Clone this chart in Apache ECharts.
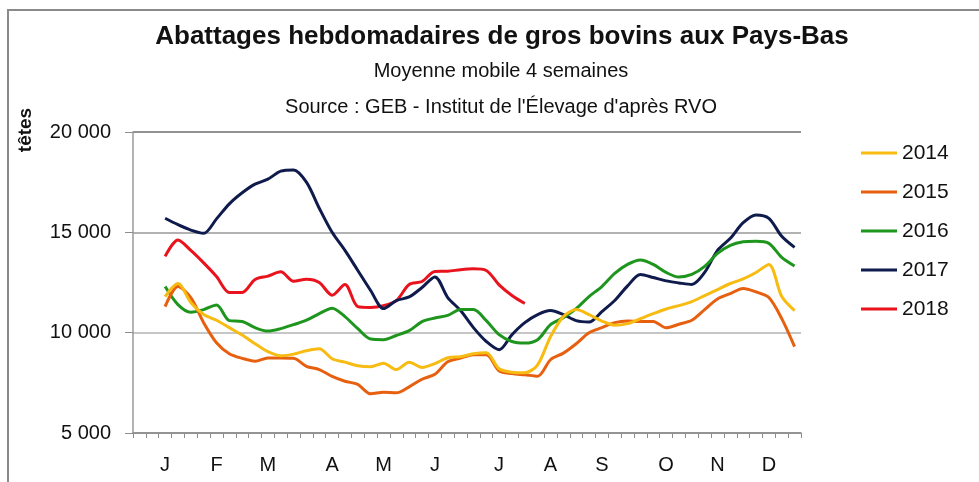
<!DOCTYPE html>
<html>
<head>
<meta charset="utf-8">
<script src="https://cdn.jsdelivr.net/npm/echarts@6/dist/echarts.min.js"></script>
<style>
  html, body { margin: 0; padding: 0; background: #fff; }
  #chart { width: 979px; height: 482px; }
</style>
</head>
<body>
<div id="chart"></div>
<script>
// weekly values, from week 3 to week 52
const y2014 = [11800, 12450, 11500, 10900, 10620, 10250, 9880, 9450, 9050, 8850,
  8930, 9100, 9200, 8700, 8530, 8350, 8300, 8480, 8160, 8530,
  8270, 8460, 8750, 8800, 8950, 9000, 8200, 8030, 8000, 8400,
  9800, 10800, 11150, 10900, 10580, 10370, 10450, 10700, 10950, 11180,
  11350, 11550, 11850, 12150, 12450, 12680, 13000, 13400, 11800, 11100];
const y2015 = [11300, 12300, 11750, 10500, 9500, 8950, 8720, 8580, 8740, 8740,
  8720, 8320, 8160, 7820, 7580, 7420, 6950, 7030, 7000, 7300,
  7680, 7930, 8550, 8730, 8900, 8900, 8100, 7960, 7900, 7830,
  8650, 8980, 9450, 10000, 10250, 10500, 10580, 10560, 10560, 10240,
  10420, 10620, 11150, 11680, 11950, 12200, 12030, 11750, 10700, 9300];
const y2016 = [12300, 11400, 11020, 11150, 11380, 10600, 10560, 10250, 10080, 10200,
  10400, 10620, 10950, 11220, 10800, 10200, 9680, 9650, 9860, 10100,
  10550, 10730, 10860, 11150, 11150, 10600, 9900, 9560, 9480, 9650,
  10400, 10750, 11200, 11800, 12300, 12950, 13400, 13620, 13400, 13000,
  12770, 12900, 13300, 13950, 14350, 14530, 14560, 14450, 13750, 13320];
const y2017 = [15700, 15380, 15110, 14950, 15670, 16420, 16970, 17400, 17650, 18050,
  18110, 17500, 16200, 15000, 14100, 13100, 12100, 11200, 11600, 11780,
  12250, 12780, 11750, 11100, 10250, 9560, 9150, 9900, 10500, 10900,
  11100, 10900, 10600, 10530, 11050, 11600, 12330, 12900, 12750, 12580,
  12480, 12400, 13000, 14100, 14700, 15480, 15870, 15700, 14800, 14250];
const y2018 = [13800, 14620, 14100, 13480, 12800, 12000, 12000, 12650, 12820, 13030,
  12560, 12660, 12500, 11870, 12400, 11300, 11260, 11350, 11600, 12400,
  12550, 13050, 13060, 13140, 13180, 13100, 12380, 11850, 11450];

const years = ['2014', '2015', '2016', '2017', '2018'];
const colors = ['#f7bb12', '#e6600f', '#1e961e', '#0f1b4c', '#e8131d'];
const monthLetters = ['J', 'F', 'M', 'A', 'M', 'J', 'J', 'A', 'S', 'O', 'N', 'D'];
const monthWeeks = [3, 7, 11, 16, 20, 24, 29, 33, 37, 42, 46, 50];
const yTicks = [5000, 10000, 15000, 20000];

const FONT = "'Liberation Sans', Arial, sans-serif";
const firstWeek = 3;
const nbWeeks = 52;

const weeks = [];
for (let w = 1; w <= nbWeeks; w++) weeks.push(w);

function pad(values) {
  const out = [];
  for (let w = 1; w < firstWeek; w++) out.push(null);
  return out.concat(values);
}

function monthLabel(w) {
  const k = monthWeeks.indexOf(Number(w));
  return k >= 0 ? monthLetters[k] : '';
}

const allValues = [y2014, y2015, y2016, y2017, y2018];

const myChart = echarts.init(document.getElementById('chart'));

const option = {
  animation: false,
  backgroundColor: '#fff',
  graphic: [
    {
      type: 'rect',
      shape: { x: 8, y: 10, width: 1000, height: 500 },
      style: { fill: 'none', stroke: '#8a8a8a', lineWidth: 2 },
      silent: true
    },
    {
      type: 'text',
      x: 502, y: 37,
      style: {
        text: 'Abattages hebdomadaires de gros bovins aux Pays-Bas',
        font: 'bold 26px ' + FONT, fill: '#111',
        textAlign: 'center', textVerticalAlign: 'middle'
      }
    },
    {
      type: 'text',
      x: 501, y: 71,
      style: {
        text: 'Moyenne mobile 4 semaines',
        font: '20px ' + FONT, fill: '#111',
        textAlign: 'center', textVerticalAlign: 'middle'
      }
    },
    {
      type: 'text',
      x: 501, y: 107,
      style: {
        text: "Source : GEB - Institut de l'Élevage d'après RVO",
        font: '20px ' + FONT, fill: '#111',
        textAlign: 'center', textVerticalAlign: 'middle'
      }
    },
    {
      type: 'text',
      x: 26, y: 130,
      rotation: Math.PI / 2,
      style: {
        text: 'têtes',
        font: 'bold 19px ' + FONT, fill: '#111',
        textAlign: 'center', textVerticalAlign: 'middle'
      }
    }
  ],
  legend: {
    orient: 'vertical',
    left: 856,
    top: 136,
    itemWidth: 36,
    itemHeight: 3,
    itemGap: 15,
    icon: 'rect',
    textStyle: { fontFamily: FONT, fontSize: 21, color: '#111', lineHeight: 24 },
    data: years
  },
  grid: {
    left: 133,
    right: 178,
    top: 132,
    bottom: 49
  },
  xAxis: {
    type: 'category',
    data: weeks,
    boundaryGap: true,
    axisLine: { show: true, lineStyle: { color: '#8c8c8c', width: 1.5 } },
    axisTick: { show: true, interval: 0, length: 5, lineStyle: { color: '#8c8c8c' } },
    axisLabel: {
      interval: 0,
      margin: 22,
      fontFamily: FONT,
      fontSize: 20,
      color: '#111',
      formatter: monthLabel
    },
    splitLine: { show: false }
  },
  yAxis: {
    type: 'value',
    min: yTicks[0],
    max: yTicks[yTicks.length - 1],
    interval: 5000,
    axisLine: { show: true, lineStyle: { color: '#9a9a9a', width: 1.5 } },
    axisTick: { show: true, length: 8, lineStyle: { color: '#8c8c8c' } },
    axisLabel: {
      margin: 22,
      fontFamily: FONT,
      fontSize: 20,
      color: '#111',
      formatter: v => String(v).replace(/\B(?=(\d{3})+(?!\d))/g, ' ')
    },
    splitLine: {
      show: true,
      lineStyle: { color: ['#8c8c8c', '#b3b3b3', '#999', '#6e6e6e'], width: 1.5 }
    }
  },
  series: years.map((name, i) => ({
    name: name,
    type: 'line',
    data: pad(allValues[i]),
    smooth: 0.3,
    showSymbol: false,
    symbol: 'none',
    lineStyle: { color: colors[i], width: 3 },
    itemStyle: { color: colors[i] },
    z: 10 - i
  }))
};

myChart.setOption(option);
</script>
</body>
</html>
